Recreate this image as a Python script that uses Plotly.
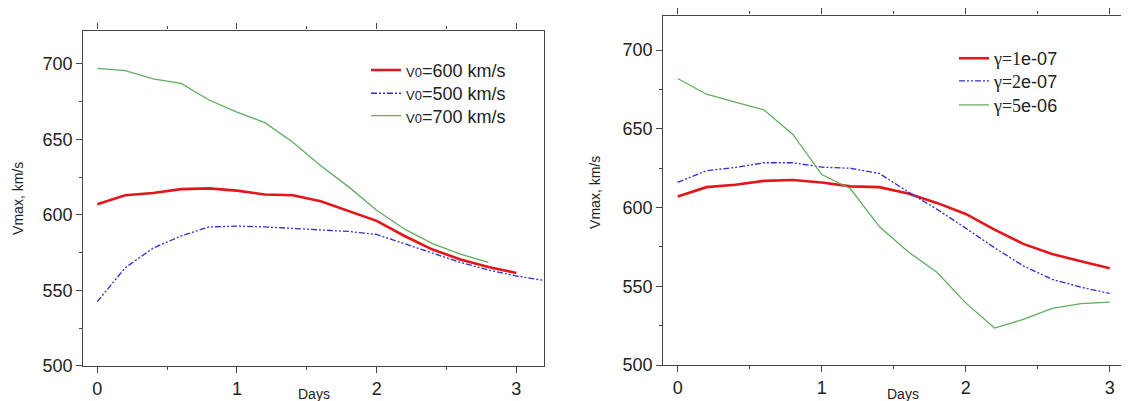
import plotly.graph_objects as go

# ---- data ----
days = [0, 0.2, 0.4, 0.6, 0.8, 1.0, 1.2, 1.4, 1.6, 1.8, 2.0, 2.2, 2.4, 2.6, 2.8, 3.0]
days_500 = [0, 0.2, 0.4, 0.6, 0.8, 1.0, 1.2, 1.4, 1.6, 1.8, 2.0, 2.2, 2.4, 2.6, 2.8, 3.0, 3.2]
days_700 = [0, 0.2, 0.4, 0.6, 0.8, 1.0, 1.2, 1.4, 1.6, 1.8, 2.0, 2.2, 2.4, 2.6, 2.8]

v0_600 = [607, 613, 614.5, 617, 617.5, 616, 613.5, 613, 609, 602.5, 596, 586, 577, 570.5, 565.5, 561.5]
v0_500 = [542.5, 565, 578, 586, 592, 592.5, 592, 591, 590, 589, 587, 581, 574.5, 568.5, 563.5, 559.5, 556.5]
v0_700 = [697, 695.5, 690, 687, 676, 668, 661, 648, 632.5, 618.5, 603, 590.5, 581, 574, 568.5]

g_1e07 = [607, 613, 614.5, 617, 617.5, 616, 613.5, 613, 609, 603, 596, 586, 577, 570.5, 566, 561.5]
g_2e07 = [616, 623.5, 625.5, 628.5, 628.5, 625.7, 625, 621.7, 610, 599, 587, 574.5, 563, 554.5, 549.5, 545.5]
g_5e06 = [682, 672, 667, 662, 646.5, 621, 612, 588, 572, 559, 539.5, 523.5, 529, 536, 539, 540]

left_names = ["=600 km/s", "=500 km/s", "=700 km/s"]
right_prefix = ["\u03b3=1", "\u03b3=2", "\u03b3=5"]
right_suffix = ["e-07", "e-07", "e-06"]

y_ticks = [500, 550, 600, 650, 700]
x_ticks = [0, 1, 2, 3]

# ---- styles ----
FONT = "Arial, 'Liberation Sans', sans-serif"
SERIF = "Liberation Serif, Times New Roman, serif"
RED = "#e3161c"
BLUE = "#2f2fd0"
GREEN = "#62ad62"
AX = "#444444"
DASHDOT2 = "6px,2px,2px,2px,2px,2px"

# page placement correction (8px body offset, slight vertical compression observed)
OFFX = 8
OFFY = 6.8
VSCALE = 0.972
W, H = 1129 - OFFX, 401


def px_x(v):
    return (v - OFFX) / W


def px_y(v):
    return 1 - ((v - OFFY) / VSCALE) / H


def vlabel(t):
    return "<span style='font-size:13px'>V0</span>" + t


def glabel(i):
    return ("<span style=\"font-family:" + SERIF + "\">" + right_prefix[i] + "</span>"
            + right_suffix[i])


fig = go.Figure()

left_series = [(days, v0_600, RED, 2.6, "solid"),
               (days_500, v0_500, BLUE, 1.3, DASHDOT2),
               (days_700, v0_700, GREEN, 1.3, "solid")]
right_series = [(days, g_1e07, RED, 2.6, "solid"),
                (days, g_2e07, BLUE, 1.3, DASHDOT2),
                (days, g_5e06, GREEN, 1.3, "solid")]

for i, (xs, ys, col, w, d) in enumerate(left_series):
    fig.add_trace(go.Scatter(x=xs, y=ys, mode="lines", name=vlabel(left_names[i]),
                             line=dict(color=col, width=w, dash=d), xaxis="x", yaxis="y",
                             legend="legend" if i == 0 else "legend%d" % (i + 1)))
for i, (xs, ys, col, w, d) in enumerate(right_series):
    fig.add_trace(go.Scatter(x=xs, y=ys, mode="lines", name=glabel(i),
                             line=dict(color=col, width=w, dash=d), xaxis="x2", yaxis="y2",
                             legend="legend%d" % (i + 4)))

xcommon = dict(tickvals=x_ticks, ticks="outside", ticklen=6, tickwidth=1.2, tickcolor=AX,
               showline=True, linecolor=AX, linewidth=1.3, mirror="ticks", showgrid=False,
               zeroline=False, tickfont=dict(family=FONT, size=18, color="#222"),
               minor=dict(dtick=0.5, tick0=0, ticks="outside", ticklen=3, tickcolor=AX, showgrid=False))
ycommon = dict(tickvals=y_ticks, range=[500, 722], ticks="outside", ticklen=6, tickwidth=1.2,
               tickcolor=AX, showline=True, linecolor=AX, linewidth=1.3, showgrid=False,
               zeroline=False, tickfont=dict(family=FONT, size=18, color="#222"),
               minor=dict(dtick=25, tick0=500, ticks="outside", ticklen=3, tickcolor=AX, showgrid=False))

leg_common = dict(xanchor="left", yanchor="middle", bgcolor="rgba(0,0,0,0)",
                  font=dict(family=FONT, size=18, color="#222"), itemwidth=30)
left_leg_y = [68, 91.3, 113.7]
right_leg_y = [56.3, 79, 103]
legends = {}
for i, yy in enumerate(left_leg_y):
    key = "legend" if i == 0 else "legend%d" % (i + 1)
    legends[key] = dict(x=px_x(366), y=px_y(yy), **leg_common)
for i, yy in enumerate(right_leg_y):
    legends["legend%d" % (i + 4)] = dict(x=px_x(954), y=px_y(yy), **leg_common)

fig.update_layout(
    width=W, height=H,
    margin=dict(l=0, r=0, t=0, b=0),
    paper_bgcolor="white", plot_bgcolor="white",
    font=dict(family=FONT, color="#222"),
    xaxis=dict(domain=[px_x(83.3), px_x(544.3)], range=[-0.1, 3.2], anchor="y", **xcommon),
    yaxis=dict(domain=[px_y(363.5), px_y(28.3)], anchor="x", mirror=True, **ycommon),
    xaxis2=dict(domain=[px_x(663.3), 1.0], range=[-0.1, 3.134], anchor="y2", **xcommon),
    yaxis2=dict(domain=[px_y(362.7), px_y(13.3)], anchor="x2", mirror=False, **ycommon),
    showlegend=True,
    **legends,
)

annots = [
    dict(text="Vmax, km/s", x=px_x(18.6), y=px_y(196), textangle=-90),
    dict(text="Vmax, km/s", x=px_x(595.6), y=px_y(190), textangle=-90),
    dict(text="Days", x=px_x(314), y=px_y(391.5)),
    dict(text="Days", x=px_x(903), y=px_y(391.5)),
]
for a in annots:
    fig.add_annotation(xref="paper", yref="paper", showarrow=False, xanchor="center", yanchor="middle",
                       font=dict(family=FONT, size=14, color="#222"), **a)

fig.write_html("out.html")
